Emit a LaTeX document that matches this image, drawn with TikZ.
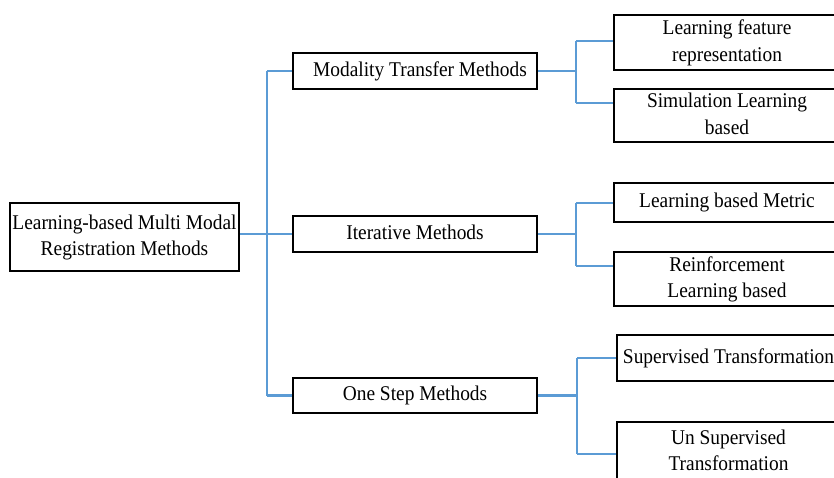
\documentclass[tikz,border=0pt]{standalone}
\usepackage{fontspec}
\usepackage{graphicx}
\setmainfont{Liberation Serif}
\definecolor{linkblue}{RGB}{91,155,213}
\newcommand{\boxtext}[1]{\scalebox{1}[1.08]{\begin{tabular}{@{}c@{}}#1\end{tabular}}}
\begin{document}
\begin{tikzpicture}[x=1pt,y=-1pt,
  box/.style={draw=black, line width=2.6pt, fill=white, inner sep=0pt, align=center,
    font=\fontsize{19.4}{24.5}\selectfont},
  link/.style={draw=linkblue, line width=2.8pt}]
\clip (0,0) rectangle (834,477);
\fill[white] (0,0) rectangle (834,477);
% connectors' junction points
\coordinate (t1) at (267,71);
\coordinate (t2) at (267,395.5);
\coordinate (b1a) at (576,41);
\coordinate (b1b) at (576,103);
\coordinate (b2a) at (576,203);
\coordinate (b2b) at (576,266);
\coordinate (b3a) at (577,358);
\coordinate (b3b) at (577,454);
% nodes
\node[box, minimum width=229pt, minimum height=68pt] (root) at (124.5,237) {\boxtext{Learning-based Multi Modal\\Registration Methods}};
\node[box, minimum width=244pt, minimum height=36pt] (mod) at (415,71) {\boxtext{\hspace*{10pt}Modality Transfer Methods}};
\node[box, minimum width=244pt, minimum height=36pt] (iter) at (415,234) {\boxtext{Iterative Methods}};
\node[box, minimum width=244pt, minimum height=35pt] (one) at (415,395.5) {\boxtext{One Step Methods}};
\node[box, minimum width=226pt, minimum height=55pt] (l1) at (727,42.5) {\boxtext{Learning feature\\representation}};
\node[box, minimum width=226pt, minimum height=53pt] (l2) at (727,115.5) {\boxtext{Simulation Learning\\based}};
\node[box, minimum width=226pt, minimum height=39pt] (l3) at (727,202.5) {\boxtext{Learning based Metric}};
\node[box, minimum width=226pt, minimum height=54pt] (l4) at (727,279) {\boxtext{Reinforcement\\Learning based}};
\node[box, minimum width=223pt, minimum height=46pt] (l5) at (728.5,358) {\boxtext{Supervised Transformation}};
\node[box, minimum width=223pt, minimum height=60pt] (l6) at (728.5,452) {\boxtext{Un Supervised\\Transformation}};
% connectors
\draw[link] (root.east |- iter.west) -- (iter.west);
\draw[link] (t1) -- (t2);
\draw[link] (t1) -- (mod.west);
\draw[link] (t2) -- (one.west);
\draw[link] (mod.east) -- (mod.east -| b1a);
\draw[link] (b1a) -- (b1b);
\draw[link] (b1a) -- (b1a -| l1.west);
\draw[link] (b1b) -- (b1b -| l2.west);
\draw[link] (iter.east) -- (iter.east -| b2a);
\draw[link] (b2a) -- (b2b);
\draw[link] (b2a) -- (b2a -| l3.west);
\draw[link] (b2b) -- (b2b -| l4.west);
\draw[link] (one.east) -- (one.east -| b3a);
\draw[link] (b3a) -- (b3b);
\draw[link] (b3a) -- (b3a -| l5.west);
\draw[link] (b3b) -- (b3b -| l6.west);
\end{tikzpicture}
\end{document}
